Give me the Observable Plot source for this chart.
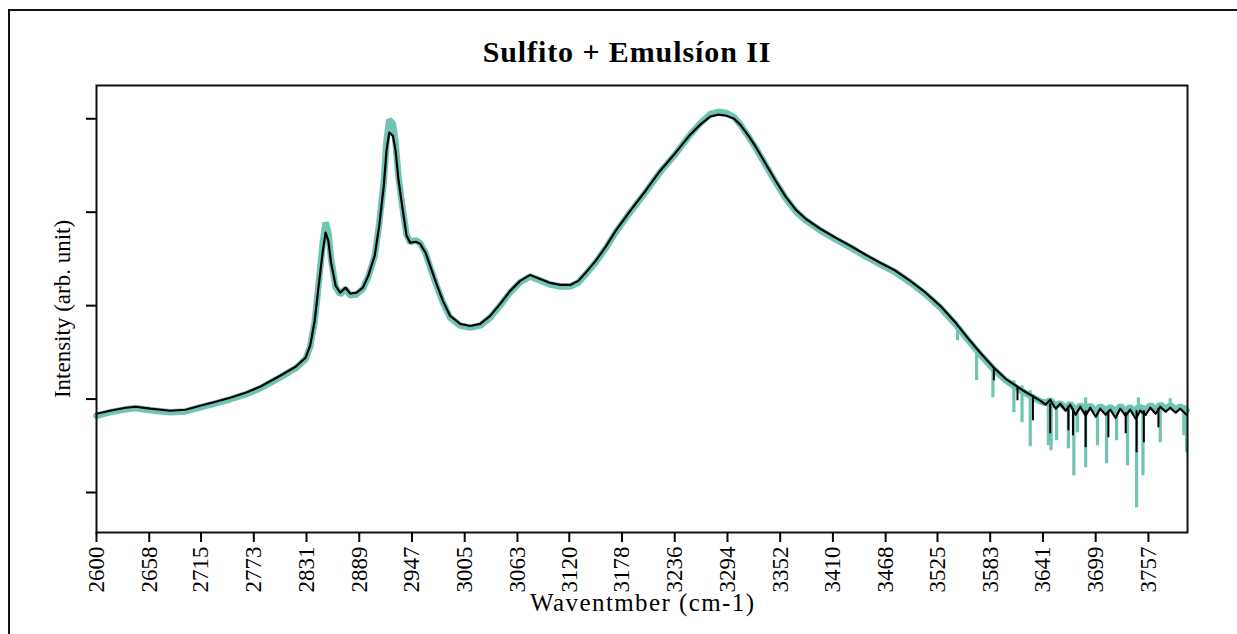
<!DOCTYPE html>
<html>
<head>
<meta charset="utf-8">
<script src="https://cdn.jsdelivr.net/npm/d3@7"></script>
<script src="https://cdn.jsdelivr.net/npm/@observablehq/plot@0.6"></script>
<style>
html, body { margin: 0; padding: 0; width: 1237px; height: 634px; overflow: hidden; background: #fff; }
#outer { position: absolute; left: 8px; top: 9px; width: 1300px; height: 700px; border: 2px solid #111; box-sizing: border-box; }
#title { position: absolute; left: 0; top: 0; width: 1237px; height: 80px; box-sizing: border-box; padding-left: 17px; padding-top: 35px; text-align: center; font-family: "Liberation Serif", serif; font-weight: bold; font-size: 30px; line-height: 34px; color: #000; letter-spacing: 0.9px; }
#chart { position: absolute; left: 0; top: 80px; }
</style>
</head>
<body>
<div id="outer"></div>
<div id="title">Sulfito + Emulsíon II</div>
<div id="chart"></div>
<script>
// ---- data ----
const title = "Sulfito + Emulsíon II";
const xLabel = "Waventmber (cm-1)";
const yLabel = "Intensity (arb. unit)";
const xTicks = [2600, 2658, 2715, 2773, 2831, 2889, 2947, 3005, 3063, 3120, 3178, 3236, 3294, 3352, 3410, 3468, 3525, 3583, 3641, 3699, 3757];
const yTicks = [0, 1000, 2000, 3000, 4000];

const wavenumber = [2600, 2615, 2632, 2643, 2659, 2681, 2698, 2714, 2731, 2747, 2764, 2780, 2802, 2819, 2830, 2835, 2840, 2844, 2849, 2852, 2855, 2858, 2863, 2868, 2874, 2879, 2886, 2893, 2899, 2906, 2911, 2916, 2919, 2922, 2926, 2929, 2932, 2937, 2941, 2945, 2951, 2956, 2962, 2967, 2974, 2981, 2989, 3000, 3011, 3022, 3033, 3044, 3055, 3066, 3077, 3088, 3099, 3110, 3121, 3130, 3138, 3149, 3160, 3171, 3187, 3204, 3220, 3237, 3253, 3264, 3275, 3284, 3292, 3301, 3308, 3317, 3325, 3336, 3347, 3358, 3369, 3380, 3396, 3413, 3429, 3446, 3462, 3479, 3495, 3512, 3528, 3545, 3559, 3572, 3586, 3600, 3616, 3627, 3638, 3644, 3649, 3655, 3660, 3666, 3671, 3677, 3682, 3688, 3693, 3699, 3704, 3710, 3715, 3721, 3726, 3732, 3737, 3743, 3748, 3754, 3759, 3765, 3770, 3776, 3781, 3787, 3792, 3799];

const blackSeries = [843, 875, 907, 918, 897, 875, 886, 929, 971, 1014, 1068, 1132, 1250, 1346, 1443, 1571, 1839, 2182, 2589, 2782, 2694, 2460, 2214, 2139, 2193, 2129, 2139, 2193, 2321, 2535, 2856, 3284, 3659, 3852, 3820, 3659, 3358, 3015, 2750, 2673, 2684, 2662, 2565, 2426, 2233, 2051, 1890, 1804, 1782, 1804, 1890, 2019, 2158, 2265, 2329, 2286, 2243, 2222, 2222, 2265, 2351, 2479, 2629, 2801, 3015, 3230, 3444, 3637, 3830, 3937, 4023, 4044, 4034, 4002, 3937, 3819, 3701, 3519, 3337, 3166, 3027, 2930, 2823, 2726, 2641, 2544, 2459, 2373, 2266, 2138, 1998, 1816, 1645, 1495, 1345, 1217, 1111, 1047, 983, 940, 993, 897, 950, 875, 940, 832, 918, 822, 907, 811, 897, 832, 886, 800, 897, 822, 886, 789, 875, 832, 907, 843, 918, 864, 907, 854, 897, 832];

const tealSeries = [820, 860, 890, 905, 880, 858, 868, 912, 955, 998, 1050, 1115, 1232, 1330, 1428, 1560, 1830, 2200, 2680, 2890, 2790, 2500, 2200, 2120, 2180, 2110, 2120, 2180, 2310, 2530, 2880, 3330, 3760, 3990, 3950, 3740, 3390, 3020, 2760, 2680, 2700, 2670, 2560, 2410, 2215, 2035, 1872, 1786, 1764, 1786, 1872, 2002, 2142, 2250, 2312, 2270, 2226, 2205, 2205, 2248, 2335, 2462, 2612, 2784, 3000, 3215, 3430, 3625, 3830, 3950, 4050, 4075, 4065, 4020, 3940, 3810, 3690, 3505, 3320, 3150, 3010, 2912, 2805, 2708, 2623, 2526, 2441, 2355, 2248, 2120, 1980, 1798, 1627, 1477, 1327, 1200, 1095, 1035, 975, 960, 985, 930, 955, 905, 950, 880, 935, 880, 930, 870, 925, 880, 915, 870, 925, 875, 915, 860, 915, 880, 935, 890, 940, 900, 930, 895, 920, 880];

// noise spikes: wavenumber, top, bottom
const tealSpikeWn  = [3547, 3568, 3586, 3609, 3618, 3627, 3647, 3650, 3656, 3669, 3675, 3679, 3688, 3701, 3711, 3722, 3734, 3744, 3751, 3770, 3796, 3799, 3688, 3746, 3781];
const tealSpikeTop = [1789, 1496, 1344, 1196, 1142, 1089, 1004, 982, 961, 929, 896, 896, 875, 875, 875, 875, 875, 929, 929, 929, 929, 875, 1014, 1014, 1004];
const tealSpikeBot = [1624, 1197, 1014, 854, 747, 490, 500, 447, 554, 468, 179, 639, 265, 500, 308, 554, 286, -165, 179, 532, 607, 425, 875, 875, 875];

const blackSpikeWn  = [3587, 3613, 3630, 3649, 3669, 3674, 3688, 3713, 3732, 3744, 3752, 3768];
const blackSpikeTop = [1325, 1121, 1036, 950, 896, 896, 875, 854, 854, 875, 875, 896];
const blackSpikeBot = [1196, 982, 768, 629, 661, 607, 479, 586, 629, 425, 532, 693];

// ---- tables built from the arrays ----
const black = wavenumber.map((w, i) => ({w, v: blackSeries[i]}));
const teal = wavenumber.map((w, i) => ({w, v: tealSeries[i]}));
const tealSpikes = tealSpikeWn.map((w, i) => ({w, y1: tealSpikeTop[i], y2: tealSpikeBot[i]}));
const blackSpikes = blackSpikeWn.map((w, i) => ({w, y1: blackSpikeTop[i], y2: blackSpikeBot[i]}));

const TEAL = "#6fc4b3";

const chart = Plot.plot({
  width: 1237,
  height: 554,
  marginLeft: 96,
  marginRight: 50,
  marginTop: 5,
  marginBottom: 102,
  style: {fontFamily: "'Liberation Serif', serif", background: "transparent", color: "#000"},
  x: {domain: [2600, 3800]},
  y: {domain: [-428, 4356]},
  marks: [
    Plot.ruleX(tealSpikes, {x: "w", y1: "y1", y2: "y2", stroke: TEAL, strokeWidth: 3.2}),
    Plot.line(teal, {x: "w", y: "v", stroke: TEAL, strokeWidth: 6.5, strokeLinejoin: "miter"}),
    Plot.line(black, {x: "w", y: "v", stroke: "#000", strokeWidth: 2.2}),
    Plot.ruleX(blackSpikes, {x: "w", y1: "y1", y2: "y2", stroke: "#000", strokeWidth: 2}),
    Plot.frame({stroke: "#111", strokeWidth: 2}),
    Plot.axisY({ticks: yTicks, tickFormat: () => "", tickSize: 10, label: null, strokeWidth: 2}),
    Plot.axisX({ticks: xTicks, tickFormat: d => String(d), tickRotate: -90, tickSize: 10, tickPadding: 4, fontSize: 23, label: null, strokeWidth: 2}),
    Plot.text([yLabel], {frameAnchor: "left", textAnchor: "middle", dx: -34, rotate: -90, fontSize: 23, text: d => d}),
    Plot.text([xLabel], {frameAnchor: "bottom", textAnchor: "middle", dy: 78, fontSize: 25, text: d => d, className: "xlab"})
  ]
});
// spread the letters of the x-axis title like the reference
d3.select(chart).selectAll("text").filter(function () { return this.textContent === xLabel; })
  .attr("textLength", 224).attr("lengthAdjust", "spacing");
document.getElementById("chart").appendChild(chart);
</script>
</body>
</html>
